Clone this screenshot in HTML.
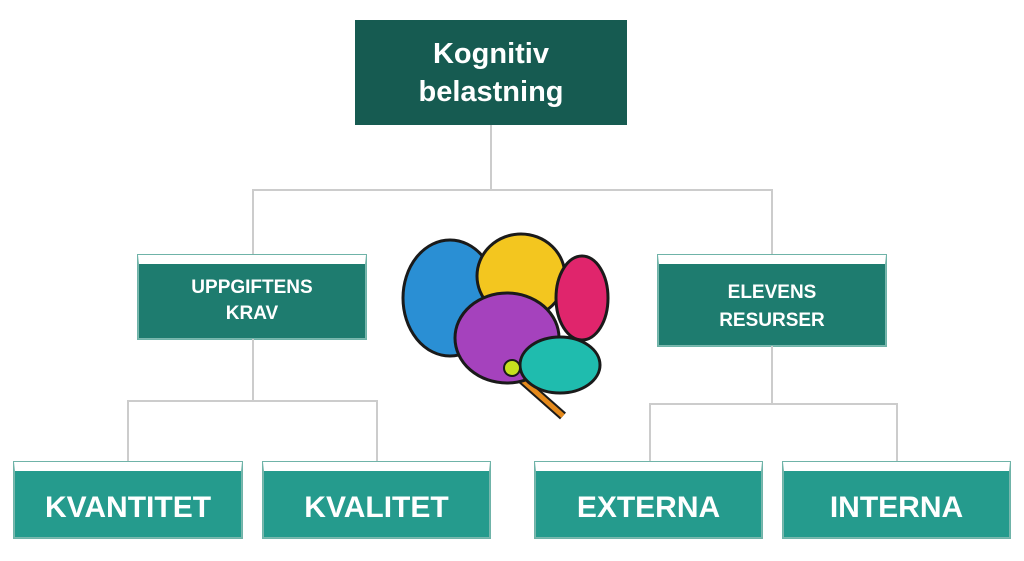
<!DOCTYPE html>
<html><head><style>
body{margin:0;width:1024px;height:561px;background:#fff;position:relative;overflow:hidden;font-family:"Liberation Sans",sans-serif}
.b{position:absolute;box-sizing:border-box;border:1px solid #7ab8ae;color:#fff;font-weight:bold;display:flex;align-items:center;justify-content:center;text-align:center;border-top:9px solid #fff;outline:1px solid #6fb3a8}
.l{position:absolute;background:#ccc}
</style></head><body>
<div class="b" style="left:355px;top:20px;width:272px;height:105px;border:none;outline:none;background:#165b51;font-size:29px;line-height:38px">Kognitiv<br>belastning</div>
<div class="l" style="left:490px;top:125px;width:2px;height:65px"></div>
<div class="l" style="left:252px;top:189px;width:521px;height:2px"></div>
<div class="l" style="left:252px;top:189px;width:2px;height:66px"></div>
<div class="l" style="left:771px;top:189px;width:2px;height:66px"></div>
<div class="b" style="left:138px;top:255px;width:228px;height:84px;background:#1e7c6f;font-size:19px;line-height:26px">UPPGIFTENS<br>KRAV</div>
<div class="b" style="left:658px;top:255px;width:228px;height:91px;background:#1e7c6f;font-size:19px;line-height:28px;padding-top:4px">ELEVENS<br>RESURSER</div>
<div class="l" style="left:252px;top:339px;width:2px;height:62px"></div>
<div class="l" style="left:127px;top:400px;width:251px;height:2px"></div>
<div class="l" style="left:127px;top:400px;width:2px;height:62px"></div>
<div class="l" style="left:376px;top:400px;width:2px;height:62px"></div>
<div class="l" style="left:771px;top:346px;width:2px;height:58px"></div>
<div class="l" style="left:649px;top:403px;width:249px;height:2px"></div>
<div class="l" style="left:649px;top:403px;width:2px;height:59px"></div>
<div class="l" style="left:896px;top:403px;width:2px;height:59px"></div>
<div class="b" style="left:14px;top:462px;width:228px;height:76px;background:#259b8d;font-size:30px;padding-top:8px">KVANTITET</div>
<div class="b" style="left:263px;top:462px;width:227px;height:76px;background:#259b8d;font-size:30px;padding-top:8px">KVALITET</div>
<div class="b" style="left:535px;top:462px;width:227px;height:76px;background:#259b8d;font-size:30px;padding-top:8px">EXTERNA</div>
<div class="b" style="left:783px;top:462px;width:227px;height:76px;background:#259b8d;font-size:30px;padding-top:8px">INTERNA</div>
<svg style="position:absolute;left:395px;top:228px" width="220" height="192">
<path d="M125 150 L168 188" stroke="#1a1a1a" stroke-width="9"/>
<path d="M125 150 L168 188" stroke="#e58a1c" stroke-width="5"/>
<ellipse cx="55" cy="70" rx="47" ry="58" fill="#2a8fd4" stroke="#1a1a1a" stroke-width="3"/>
<ellipse cx="126" cy="48" rx="44" ry="42" fill="#f3c61f" stroke="#1a1a1a" stroke-width="3"/>
<ellipse cx="187" cy="70" rx="26" ry="42" fill="#e0256c" stroke="#1a1a1a" stroke-width="3"/>
<ellipse cx="112" cy="110" rx="52" ry="45" fill="#a542bd" stroke="#1a1a1a" stroke-width="3"/>
<ellipse cx="165" cy="137" rx="40" ry="28" fill="#1fbcae" stroke="#1a1a1a" stroke-width="3"/>
<circle cx="117" cy="140" r="8" fill="#c6e01e" stroke="#1a1a1a" stroke-width="2"/>
</svg>
</body></html>
